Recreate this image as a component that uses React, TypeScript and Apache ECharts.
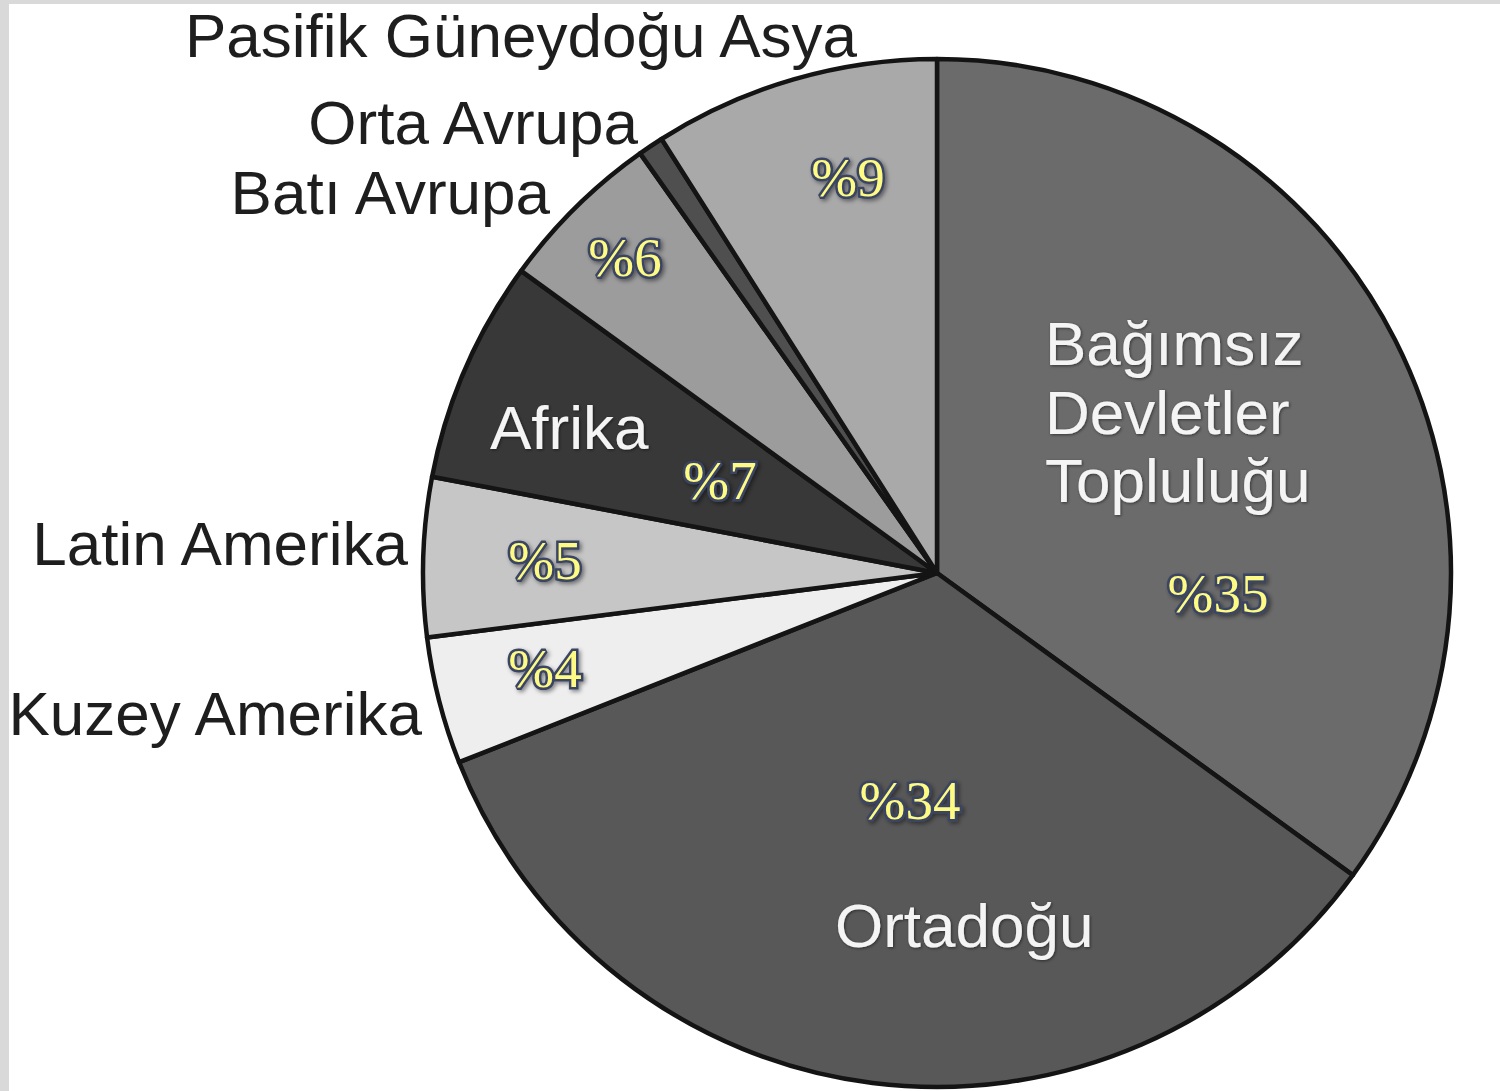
import React, { useEffect, useRef } from "react";
import * as echarts from "echarts";

const regions = [
  "Bağımsız Devletler Topluluğu",
  "Ortadoğu",
  "Kuzey Amerika",
  "Latin Amerika",
  "Afrika",
  "Batı Avrupa",
  "Orta Avrupa",
  "Pasifik Güneydoğu Asya",
];
// slice sizes as drawn in the picture (percent of the circle)
const shares = [35, 34, 4, 5, 7, 5.2, 0.8, 9];
const sliceColors = ["#6b6b6b", "#585858", "#eeeeee", "#c6c6c6", "#383838", "#9c9c9c", "#4f4f4f", "#a9a9a9"];
const percentLabels = ["%35", "%34", "%4", "%5", "%7", "%6", "", "%9"];

export default function App() {
  const ref = useRef<HTMLDivElement>(null);
  useEffect(() => {
    if (!ref.current) return;
    const chart = echarts.init(ref.current, null, { renderer: "svg" });

    const sans = "Liberation Sans, Arial, sans-serif";
    const serif = "Liberation Serif, Times New Roman, serif";
    const darkText = (text: string, x: number, y: number, align: string) => ({
      type: "text",
      x,
      y,
      style: { text, fill: "#1e1e1e", font: `62px ${sans}`, align, verticalAlign: "middle" },
      z: 10,
    });
    const whiteText = (text: string, x: number, y: number, align: string) => ({
      type: "text",
      x,
      y,
      style: {
        text,
        fill: "#f4f4f4",
        font: `62px ${sans}`,
        align,
        verticalAlign: "middle",
        textShadowColor: "rgba(0,0,0,0.5)",
        textShadowBlur: 3,
        textShadowOffsetX: 1,
        textShadowOffsetY: 1,
      },
      z: 10,
    });
    const pctText = (idx: number, x: number, y: number) => ({
      type: "text",
      x,
      y,
      style: {
        text: percentLabels[idx],
        fill: "#fefb85",
        font: `55px ${serif}`,
        align: "center",
        verticalAlign: "middle",
        stroke: "#3a4564",
        lineWidth: 5,
        textShadowColor: "rgba(0,0,0,0.45)",
        textShadowBlur: 4,
        textShadowOffsetX: 2,
        textShadowOffsetY: 2,
      },
      z: 11,
    });

    chart.setOption({
      animation: false,
      backgroundColor: "#ffffff",
      series: [
        {
          type: "pie",
          center: [937, 573],
          radius: 514,
          startAngle: 90,
          clockwise: true,
          label: { show: false },
          labelLine: { show: false },
          emphasis: { disabled: true },
          itemStyle: { borderColor: "#141414", borderWidth: 4.5 },
          data: regions.map((name, i) => ({
            name,
            value: shares[i],
            itemStyle: { color: sliceColors[i] },
          })),
        },
      ],
      graphic: [
        { type: "rect", shape: { x: 0, y: 0, width: 1500, height: 4 }, style: { fill: "#d9d9d9" }, z: 20 },
        { type: "rect", shape: { x: 0, y: 0, width: 9, height: 1091 }, style: { fill: "#d9d9d9" }, z: 20 },
        darkText(regions[7], 185, 35, "left"),
        darkText(regions[6], 638, 122, "right"),
        darkText(regions[5], 550, 192, "right"),
        darkText(regions[3], 408, 543, "right"),
        darkText(regions[2], 422, 713, "right"),
        whiteText("Bağımsız", 1045, 343, "left"),
        whiteText("Devletler", 1045, 412, "left"),
        whiteText("Topluluğu", 1045, 480, "left"),
        whiteText(regions[4], 490, 427, "left"),
        whiteText(regions[1], 835, 925, "left"),
        pctText(0, 1218, 593),
        pctText(1, 910, 800),
        pctText(2, 545, 668),
        pctText(3, 545, 560),
        pctText(4, 720, 480),
        pctText(5, 625, 257),
        pctText(7, 848, 177),
      ],
    });
    return () => chart.dispose();
  }, []);
  return (
    <div
      ref={ref}
      style={{ position: "absolute", left: 0, top: 0, width: 1500, height: 1091 }}
    />
  );
}
